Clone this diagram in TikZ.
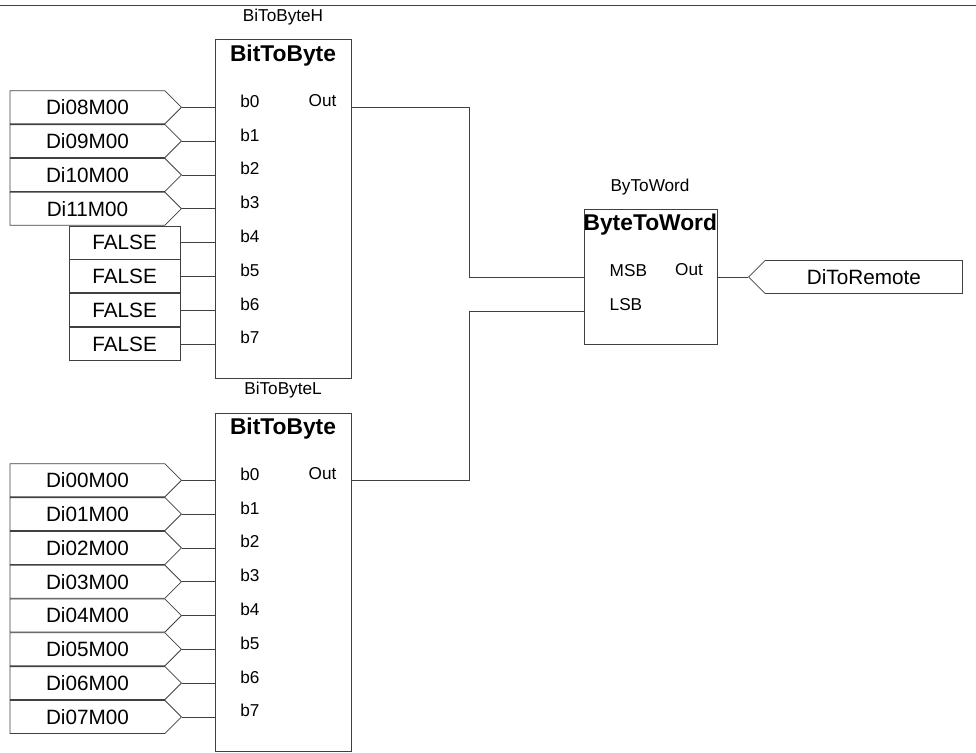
\documentclass[tikz,border=0pt]{standalone}
\usepackage{fontspec}
\setmainfont{Liberation Sans}
\usetikzlibrary{shapes.symbols}
\definecolor{wiregray}{gray}{0.25}
\tikzset{
  fblock/.style={draw, rectangle, anchor=north west, inner sep=0pt},
  blocktype/.style={font=\fontsize{22.8}{26}\selectfont\bfseries},
  smalltext/.style={font=\fontsize{17.2}{20}\selectfont, inner sep=0pt},
  tagtext/.style={font=\fontsize{20.7}{24}\selectfont},
  intag/.style={draw, tagtext, signal, signal to=east, signal from=nowhere, signal pointer angle=90,
    anchor=east, minimum height=33pt, minimum width=171.5pt, inner ysep=0pt},
  outtag/.style={draw, tagtext, signal, signal to=west, signal from=nowhere, signal pointer angle=90,
    anchor=west, minimum height=33pt, minimum width=214pt, inner ysep=0pt},
  constbox/.style={draw, rectangle, tagtext, anchor=east, minimum width=111pt, minimum height=33pt, inner sep=0pt},
}
\begin{document}
\begin{tikzpicture}[x=1pt,y=-1pt,line width=0.8pt,draw=wiregray]
\useasboundingbox (0,0) rectangle (976,752);
\coordinate (topleft) at (0,5);
\coordinate (topright) at (976,5);
\draw (topleft) -- (topright);

\node[fblock, minimum width=136pt, minimum height=338.5pt] (hblock) at (214.5,39.5) {};
\node[fblock, minimum width=136pt, minimum height=338.5pt] (lblock) at (214.5,412.7) {};
\node[fblock, minimum width=132.5pt, minimum height=135pt] (wblock) at (584,209) {};

\node[smalltext] (hname) at (283,17) {BiToByteH};
\node[smalltext] (lname) at (283,390) {BiToByteL};
\node[smalltext] (wname) at (650,187) {ByToWord};
\node[blocktype] (htype) at (283,55.5) {BitToByte};
\node[blocktype] (ltype) at (283,428.5) {BitToByte};
\node[blocktype] (wtype) at (650.3,225) {ByteToWord};

\foreach \n [count=\i from 0] in {08,09,10,11} {
  \node[intag] (hin\i) at (182,107.3+33.8*\i) {Di\n M00};
}
\foreach \i in {4,...,7} {
  \node[constbox] (hin\i) at (180.5,107.3+33.8*\i) {\raisebox{-1pt}{FALSE}};
}
\foreach \n [count=\i from 0] in {00,01,02,03,04,05,06,07} {
  \node[intag] (lin\i) at (182,480.3+33.8*\i) {Di\n M00};
}
\foreach \i in {0,...,7} {
  \draw (hin\i.east) -- (hin\i.east -| hblock.west);
  \draw (lin\i.east) -- (lin\i.east -| lblock.west);
  \node[smalltext, anchor=base west] (hb\i) at (240,107.3+33.8*\i) {b\i};
  \node[smalltext, anchor=base west] (lb\i) at (240,480.3+33.8*\i) {b\i};
}

\node[smalltext] (hoff) at (322.5,101) {Out};
\node[smalltext] (loff) at (322.5,474) {Out};
\node[smalltext, anchor=base west] (msblabel) at (609.3,276) {MSB};
\node[smalltext, anchor=base west] (lsblabel) at (609.3,310) {LSB};
\node[smalltext] (woff) at (689,270) {Out};
\node[outtag] (remote) at (748,277) {DiToRemote};

\coordinate (hout) at (350.5,107.3);
\coordinate (lout) at (350.5,480.3);
\coordinate (hjog) at (469,277);
\coordinate (ljog) at (469,311);
\coordinate (msbpin) at (584,277);
\coordinate (lsbpin) at (584,311);
\coordinate (wout) at (716.5,277);

\draw (hout) -| (hjog) -- (msbpin);
\draw (lout) -| (ljog) -- (lsbpin);
\draw (wout) -- (remote.west);
\end{tikzpicture}
\end{document}
